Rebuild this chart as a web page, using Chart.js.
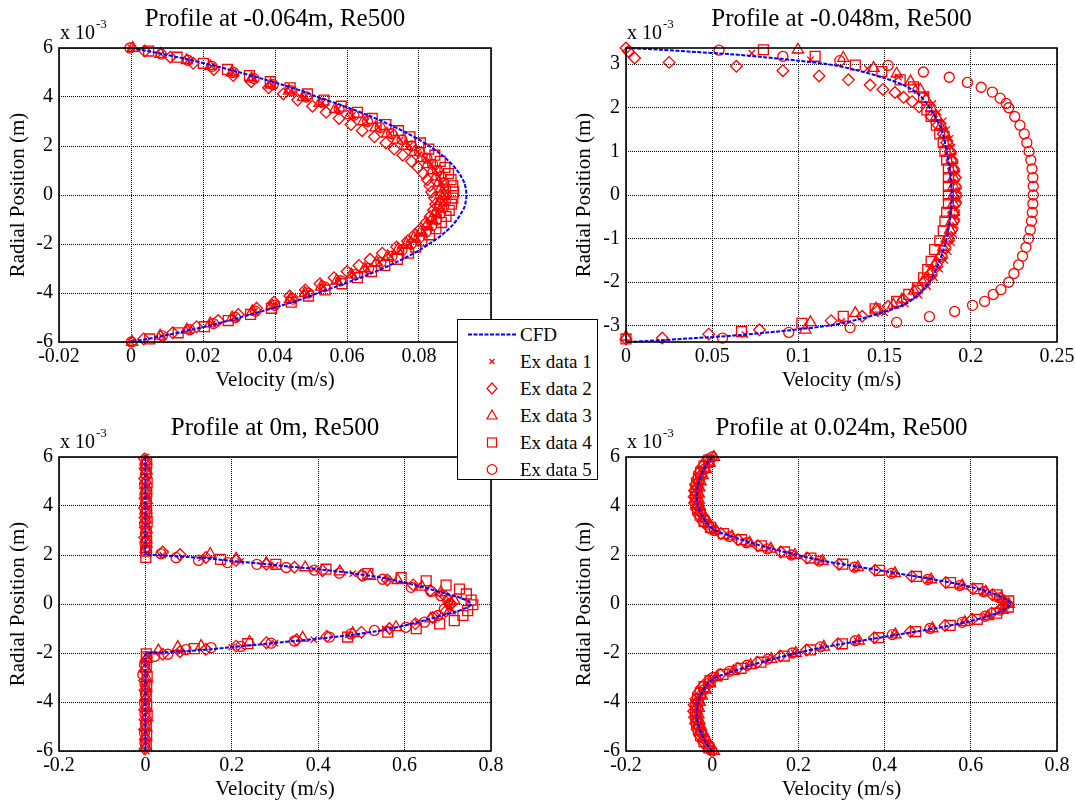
<!DOCTYPE html>
<html>
<head>
<meta charset="utf-8">
<script src="https://cdn.jsdelivr.net/npm/chart.js@4.4.1/dist/chart.umd.min.js"></script>
<style>
  html, body { margin: 0; padding: 0; background: #fff; overflow: hidden; }
  body { width: 1075px; height: 802px; position: relative; font-family: "Liberation Serif", "Times New Roman", serif; }
  .panel { position: absolute; width: 560px; height: 420px; }
  #legend { position: absolute; left: 457px; top: 319px; width: 139px; height: 159px; border: 1px solid #000; background: #fff; }
  .legend-row { position: relative; height: 27px; }
  .legend-row:first-child { margin-top: 1px; }
  .legend-row svg { position: absolute; left: 0; top: 0; }
  .legend-row span { position: absolute; left: 62px; top: 0; line-height: 27px; font-size: 19px; color: #000; white-space: nowrap; }
</style>
</head>
<body>
<div class="panel" style="left:0;top:0"><canvas id="ch-tl"></canvas></div>
<div class="panel" style="left:537px;top:0"><canvas id="ch-tr"></canvas></div>
<div class="panel" style="left:0;top:400px"><canvas id="ch-bl"></canvas></div>
<div class="panel" style="left:537px;top:400px"><canvas id="ch-br"></canvas></div>
<div id="legend"></div>

<script>
// ---- labels ----
const seriesNames = ['CFD', 'Ex data 1', 'Ex data 2', 'Ex data 3', 'Ex data 4', 'Ex data 5'];
const panelTitles = ['Profile at -0.064m, Re500', 'Profile at -0.048m, Re500', 'Profile at 0m, Re500', 'Profile at 0.024m, Re500'];
const xLabel = 'Velocity (m/s)';
const yLabel = 'Radial Position (m)';

// ---- tick values ----
const ticksRad6 = [-6, -4, -2, 0, 2, 4, 6];
const ticksRad3 = [-3, -2, -1, 0, 1, 2, 3];
const ticksVelTL = [-0.02, 0, 0.02, 0.04, 0.06, 0.08, 0.1];
const ticksVelTR = [0, 0.05, 0.1, 0.15, 0.2, 0.25];
const ticksVelLow = [-0.2, 0, 0.2, 0.4, 0.6, 0.8];

// radial stations (x 10^-3 m) for the -0.064m and 0.024m profiles
const radialGrid = [6, 5.75, 5.5, 5.25, 5, 4.75, 4.5, 4.25, 4, 3.75, 3.5, 3.25, 3, 2.75, 2.5, 2.25, 2, 1.75, 1.5, 1.25, 1, 0.75, 0.5, 0.25, 0,
  -0.25, -0.5, -0.75, -1, -1.25, -1.5, -1.75, -2, -2.25, -2.5, -2.75, -3, -3.25, -3.5, -3.75, -4, -4.25, -4.5, -4.75, -5, -5.25, -5.5, -5.75, -6];
// staggered stations used by runs 2 and 4
const radialMid = [5.875, 5.625, 5.375, 5.125, 4.875, 4.625, 4.375, 4.125, 3.875, 3.625, 3.375, 3.125, 2.875, 2.625, 2.375, 2.125, 1.875, 1.625, 1.375, 1.125, 0.875, 0.625, 0.375, 0.125,
  -0.125, -0.375, -0.625, -0.875, -1.125, -1.375, -1.625, -1.875, -2.125, -2.375, -2.625, -2.875, -3.125, -3.375, -3.625, -3.875, -4.125, -4.375, -4.625, -4.875, -5.125, -5.375, -5.625, -5.875];

// ---- profile at -0.064m ----
const tlCfdVel = [0, 0.0089, 0.0168, 0.0239, 0.0303, 0.0363, 0.042, 0.0475, 0.0518, 0.0568, 0.0615, 0.0659, 0.0699, 0.0736, 0.077, 0.0801, 0.0828, 0.0853, 0.0874, 0.0892, 0.0906, 0.0917, 0.0926, 0.093, 0.0932,
  0.093, 0.0926, 0.0917, 0.0906, 0.0892, 0.0874, 0.0853, 0.0828, 0.0801, 0.077, 0.0736, 0.0699, 0.0659, 0.0615, 0.0568, 0.0518, 0.0475, 0.042, 0.0363, 0.0303, 0.0239, 0.0168, 0.0089, 0];
const tlVel1 = [0, 0.0083, 0.0157, 0.0223, 0.0283, 0.0339, 0.0392, 0.0444, 0.0483, 0.053, 0.0574, 0.0615, 0.0653, 0.0687, 0.0719, 0.0748, 0.0773, 0.0796, 0.0816, 0.0832, 0.0846, 0.0856, 0.0864, 0.0869, 0.087,
  0.0868, 0.0863, 0.0855, 0.0844, 0.0831, 0.0815, 0.0795, 0.0774, 0.0749, 0.0721, 0.069, 0.0656, 0.0618, 0.0578, 0.0534, 0.0488, 0.0447, 0.0396, 0.0343, 0.0287, 0.0226, 0.016, 0.0085, 0];
const tlVel2 = [0.0038, 0.0109, 0.0173, 0.023, 0.0284, 0.0334, 0.0382, 0.0423, 0.0463, 0.0504, 0.0542, 0.0578, 0.0611, 0.0642, 0.0676, 0.0708, 0.0731, 0.0755, 0.0779, 0.0797, 0.0812, 0.0823, 0.083, 0.0835,
  0.0843, 0.0846, 0.084, 0.0831, 0.082, 0.0805, 0.0788, 0.0768, 0.0738, 0.0698, 0.0664, 0.0633, 0.06, 0.0564, 0.0525, 0.0484, 0.0441, 0.0397, 0.0349, 0.0298, 0.0242, 0.0182, 0.0116, 0.0035];
const tlVel3 = [0.0005, 0.0082, 0.0155, 0.022, 0.028, 0.0335, 0.0388, 0.0439, 0.0478, 0.0524, 0.0567, 0.0608, 0.0645, 0.0679, 0.0711, 0.0739, 0.0764, 0.0787, 0.0806, 0.0823, 0.0836, 0.0847, 0.0854, 0.0859, 0.086,
  0.0858, 0.0853, 0.0845, 0.0835, 0.0821, 0.0805, 0.0786, 0.0765, 0.074, 0.0713, 0.0682, 0.0649, 0.0612, 0.0571, 0.0528, 0.0483, 0.0442, 0.0391, 0.0337, 0.0281, 0.022, 0.0155, 0.0081, 0.0003];
const tlVel4 = [0.0049, 0.0128, 0.0201, 0.0268, 0.0329, 0.0387, 0.0442, 0.049, 0.0536, 0.0584, 0.0629, 0.067, 0.0708, 0.0743, 0.0775, 0.0804, 0.0827, 0.0844, 0.0859, 0.0872, 0.0882, 0.0889, 0.0894, 0.0896,
  0.0894, 0.089, 0.0884, 0.0875, 0.0862, 0.0847, 0.0829, 0.0808, 0.0791, 0.0771, 0.074, 0.0705, 0.0668, 0.0629, 0.0586, 0.0539, 0.0493, 0.0445, 0.039, 0.0332, 0.027, 0.0204, 0.0131, 0.0052];
const tlVel5 = [-0.0003, 0.0084, 0.0158, 0.0225, 0.0285, 0.0342, 0.0395, 0.0447, 0.0487, 0.0534, 0.0578, 0.0619, 0.0657, 0.0692, 0.0724, 0.0753, 0.0779, 0.0802, 0.0822, 0.0838, 0.0851, 0.0861, 0.0869, 0.0874, 0.0875,
  0.0873, 0.0868, 0.086, 0.0849, 0.0836, 0.082, 0.08, 0.0778, 0.0753, 0.0725, 0.0694, 0.066, 0.0622, 0.0582, 0.0538, 0.0492, 0.045, 0.0399, 0.0346, 0.029, 0.0229, 0.0163, 0.0087, 0.0001];

// ---- profile at -0.048m ----
const trCfdRad = [3.37, 3.33, 3.28, 3.23, 3.16, 3.08, 2.98, 2.85, 2.68, 2.5, 2.3, 2, 1.5, 1, 0.5, 0, -0.5, -1, -1.5, -2, -2.3, -2.5, -2.68, -2.85, -2.98, -3.08, -3.16, -3.23, -3.28, -3.33, -3.37];
const trCfdVel = [0, 0.02, 0.04, 0.06, 0.08, 0.1, 0.12, 0.135, 0.15, 0.162, 0.17, 0.176, 0.183, 0.186, 0.188, 0.189, 0.188, 0.186, 0.182, 0.176, 0.169, 0.162, 0.15, 0.135, 0.12, 0.1, 0.08, 0.06, 0.04, 0.02, 0];
const trRad1 = [3.25, 3.1, 2.9, 2.7, 2.5, 2.3, 2.1, 1.9, 1.7, 1.5, 1.3, 1.1, 0.9, 0.7, 0.5, 0.3, 0.1, -0.1, -0.3, -0.5, -0.7, -0.9, -1.1, -1.3, -1.5, -1.7, -1.9, -2.1, -2.3, -2.5, -2.7, -2.9, -3.2];
const trVel1 = [0.073, 0.107, 0.14, 0.158, 0.168, 0.174, 0.178, 0.181, 0.184, 0.186, 0.188, 0.189, 0.19, 0.191, 0.192, 0.192, 0.193, 0.193, 0.192, 0.192, 0.191, 0.19, 0.189, 0.187, 0.185, 0.182, 0.179, 0.175, 0.17, 0.162, 0.15, 0.125, 0.069];
const trRad2 = [3.37, 3.29, 3.14, 3.04, 2.95, 2.85, 2.73, 2.64, 2.52, 2.42, 2.35, 2.24, 2.14, 2.02, 1.8, 1.6, 1.4, 1.2, 1, 0.8, 0.6, 0.4, 0.2, 0, -0.2, -0.4, -0.6, -0.8, -1, -1.2, -1.4, -1.6, -1.8, -2, -2.2, -2.4, -2.55, -2.65, -2.78, -2.88, -3.09, -3.19, -3.28, -3.3];
const trVel2 = [0, 0.0014, 0.005, 0.025, 0.064, 0.091, 0.112, 0.129, 0.1416, 0.149, 0.156, 0.161, 0.166, 0.17, 0.177, 0.181, 0.184, 0.186, 0.188, 0.189, 0.19, 0.191, 0.191, 0.191, 0.191, 0.19, 0.19, 0.189, 0.187, 0.185, 0.183, 0.18, 0.177, 0.173, 0.168, 0.161, 0.152, 0.146, 0.137, 0.119, 0.0774, 0.048, 0.021, 0];
const trRad3 = [3.33, 3.14, 2.91, 2.78, 2.6, 2.41, 2.2, 2, 1.8, 1.6, 1.4, 1.2, 1, 0.8, 0.6, 0.4, 0.2, 0, -0.2, -0.4, -0.6, -0.8, -1, -1.2, -1.4, -1.6, -1.8, -2, -2.2, -2.4, -2.52, -2.61, -2.71, -2.92, -3.09, -3.25];
const trVel3 = [0.0997, 0.126, 0.1436, 0.157, 0.165, 0.1707, 0.174, 0.177, 0.18, 0.183, 0.185, 0.187, 0.188, 0.189, 0.19, 0.19, 0.19, 0.19, 0.19, 0.19, 0.189, 0.188, 0.186, 0.184, 0.182, 0.179, 0.176, 0.172, 0.167, 0.16, 0.155, 0.145, 0.133, 0.107, 0.104, 0];
const trRad4 = [3.33, 3.18, 2.98, 2.83, 2.64, 2.48, 2.25, 1.95, 1.8, 1.6, 1.4, 1.2, 1, 0.8, 0.6, 0.4, 0.2, 0, -0.2, -0.4, -0.6, -0.82, -1.05, -1.25, -1.52, -1.71, -1.9, -2.13, -2.28, -2.44, -2.61, -2.78, -2.94, -3.13, -3.3];
const trVel4 = [0.0797, 0.1097, 0.133, 0.1484, 0.159, 0.1668, 0.1726, 0.1745, 0.177, 0.18, 0.182, 0.184, 0.185, 0.186, 0.187, 0.187, 0.187, 0.187, 0.187, 0.186, 0.185, 0.184, 0.182, 0.179, 0.177, 0.175, 0.1726, 0.169, 0.164, 0.157, 0.1445, 0.126, 0.102, 0.067, 0];
const trRad5 = [3.32, 3.18, 3.08, 2.97, 2.82, 2.7, 2.58, 2.47, 2.36, 2.22, 2.1, 2, 1.8, 1.6, 1.4, 1.2, 1, 0.8, 0.6, 0.4, 0.2, 0, -0.2, -0.4, -0.6, -0.8, -1, -1.2, -1.4, -1.6, -1.8, -2, -2.17, -2.28, -2.44, -2.53, -2.67, -2.79, -2.92, -3.04, -3.15, -3.28];
const trVel5 = [0.054, 0.091, 0.124, 0.152, 0.1725, 0.1875, 0.198, 0.206, 0.2125, 0.217, 0.2205, 0.222, 0.2255, 0.2285, 0.231, 0.2325, 0.2338, 0.2348, 0.2355, 0.236, 0.2362, 0.2362, 0.236, 0.2357, 0.2352, 0.2345, 0.2335, 0.232, 0.23, 0.2277, 0.225, 0.222, 0.2175, 0.213, 0.208, 0.201, 0.1906, 0.176, 0.157, 0.13, 0.0944, 0.056];

// ---- profile at 0m ----
const blCfdRad = [6, 2.03, 2, 1.97, 1.92, 1.85, 1.76, 1.66, 1.55, 1.42, 1.28, 1.1, 0.88, 0.65, 0.45, 0.28, 0.12, 0, -0.12, -0.28, -0.45, -0.65, -0.88, -1.1, -1.28, -1.42, -1.55, -1.66, -1.76, -1.85, -1.92, -1.97, -2, -2.03, -6];
const blCfdVel = [0, 0, 0.01, 0.05, 0.1, 0.15, 0.2, 0.26, 0.32, 0.4, 0.47, 0.54, 0.6, 0.65, 0.69, 0.725, 0.748, 0.754, 0.748, 0.725, 0.69, 0.65, 0.6, 0.54, 0.47, 0.4, 0.32, 0.26, 0.2, 0.15, 0.1, 0.05, 0.01, 0, 0];
const blRad1 = [6, 5.6, 5.2, 4.8, 4.4, 4, 3.6, 3.2, 2.8, 2.4,
  2.1, 2, 1.88, 1.74, 1.58, 1.42, 1.24, 1.02, 0.75, 0.45, 0.15, -0.15, -0.45, -0.75, -1.02, -1.26, -1.45, -1.6, -1.76, -1.95, -2.08,
  -2.4, -2.8, -3.2, -3.6, -4, -4.4, -4.8, -5.2, -5.6, -6];
const blVel1 = [0.001, 0.002, 0.001, 0, 0.002, 0.001, 0.001, 0.002, 0, 0.003,
  0.004, 0.04, 0.13, 0.22, 0.3, 0.39, 0.48, 0.56, 0.63, 0.68, 0.705, 0.705, 0.68, 0.63, 0.555, 0.47, 0.39, 0.3, 0.2, 0.08, 0.01,
  0.002, 0.001, 0, 0.002, 0.001, 0.002, 0.001, 0, 0.001, 0.002];
const blRad2 = [5.92, 5.52, 5.12, 4.72, 4.32, 3.92, 3.52, 3.12, 2.72, 2.32,
  2.12, 2.02, 1.9, 1.78, 1.62, 1.5, 1.36, 1.18, 0.98, 0.78, 0.55, 0.3, 0, -0.3, -0.55, -0.8, -1, -1.15, -1.32, -1.46, -1.58, -1.72, -1.85, -1.95, -2.05,
  -2.32, -2.72, -3.12, -3.52, -3.92, -4.32, -4.72, -5.12, -5.52, -5.92];
const blVel2 = [-0.002, -0.001, -0.002, 0, -0.001, -0.002, -0.001, 0, -0.002, 0.002,
  0.04, 0.08, 0.14, 0.21, 0.28, 0.345, 0.41, 0.5, 0.56, 0.62, 0.66, 0.695, 0.708, 0.695, 0.665, 0.625, 0.565, 0.5, 0.42, 0.35, 0.28, 0.21, 0.14, 0.08, 0.04,
  0.001, -0.001, -0.002, -0.001, 0, -0.002, -0.001, -0.002, 0, -0.001];
const blRad3 = [5.84, 5.44, 5.04, 4.64, 4.24, 3.84, 3.44, 3.04, 2.64, 2.24,
  2.04, 1.84, 1.66, 1.49, 1.32, 1.14, 0.97, 0.7, 0.47, 0.14, -0.27, -0.6, -0.95, -1.2, -1.38, -1.55, -1.72, -1.76, -1.9,
  -2.24, -2.64, -3.04, -3.44, -3.84, -4.24, -4.64, -5.04, -5.44, -5.84];
const blVel3 = [0.002, 0.003, 0.001, 0.002, 0.003, 0.002, 0.001, 0.003, 0.002, 0.001,
  0.15, 0.21, 0.28, 0.37, 0.45, 0.52, 0.584, 0.64, 0.684, 0.715, 0.704, 0.66, 0.58, 0.48, 0.364, 0.241, 0.129, 0.075, 0.03,
  0.002, 0.001, 0.003, 0.002, 0.001, 0.002, 0.003, 0.002, 0.001, 0.002];
const blRad4 = [5.76, 5.36, 4.96, 4.56, 4.16, 3.76, 3.36, 2.96, 2.56, 2.16, 1.9,
  1.82, 1.62, 1.42, 1.24, 1.08, 0.95, 0.77, 0.61, 0.41, 0.16, -0.03, -0.27, -0.47, -0.68, -0.81, -1.01, -1.15, -1.35, -1.62, -1.82,
  -2.03, -2.16, -2.56, -2.96, -3.36, -3.76, -4.16, -4.56, -4.96, -5.36, -5.76];
const blVel4 = [0.003, 0.002, 0.004, 0.003, 0.002, 0.003, 0.004, 0.002, 0.003, 0.002, 0.001,
  0.174, 0.302, 0.418, 0.515, 0.592, 0.65, 0.696, 0.727, 0.743, 0.754, 0.758, 0.746, 0.735, 0.715, 0.681, 0.627, 0.561, 0.468, 0.237, 0.113,
  0.002, 0.003, 0.002, 0.004, 0.003, 0.002, 0.003, 0.004, 0.002, 0.003, 0.002];
const blRad5 = [5.68, 5.28, 4.88, 4.48, 4.08, 3.68, 3.28, 2.88, 2.48, 2.2,
  2.05, 1.89, 1.78, 1.69, 1.62, 1.49, 1.38, 1.26, 1.15, 1.01, 0.68, 0.51, 0.34, 0.14, 0, -0.2, -0.47, -0.74, -0.95, -1.08, -1.22, -1.35, -1.51, -1.6, -1.73, -1.78, -1.86, -2.05, -2.14,
  -2.48, -2.88, -3.28, -3.68, -4.08, -4.48, -4.88, -5.28, -5.68];
const blVel5 = [-0.001, 0, -0.002, -0.001, 0, -0.001, -0.002, 0, -0.001, 0,
  0.036, 0.071, 0.123, 0.19, 0.258, 0.326, 0.391, 0.449, 0.503, 0.549, 0.615, 0.661, 0.684, 0.7, 0.704, 0.692, 0.677, 0.646, 0.603, 0.53, 0.476, 0.426, 0.345, 0.291, 0.221, 0.152, 0.094, 0.052, 0.021,
  -0.002, -0.006, -0.001, 0, -0.002, -0.001, 0, -0.002, -0.001];

// ---- profile at 0.024m ----
const brCfdVel = [0, -0.011, -0.02, -0.026, -0.031, -0.034, -0.035, -0.035, -0.033, -0.028, -0.02, -0.01, 0.008, 0.048, 0.09, 0.14, 0.197, 0.262, 0.345, 0.43, 0.515, 0.587, 0.64, 0.675, 0.692,
  0.675, 0.64, 0.587, 0.515, 0.43, 0.345, 0.262, 0.197, 0.14, 0.09, 0.048, 0.008, -0.01, -0.02, -0.028, -0.033, -0.035, -0.035, -0.034, -0.031, -0.026, -0.02, -0.011, 0];
const brVel1 = [0.002, -0.01, -0.02, -0.027, -0.032, -0.035, -0.036, -0.036, -0.034, -0.029, -0.021, -0.011, 0.004, 0.042, 0.083, 0.132, 0.188, 0.252, 0.334, 0.42, 0.503, 0.577, 0.632, 0.668, 0.684,
  0.67, 0.636, 0.583, 0.508, 0.422, 0.336, 0.255, 0.19, 0.133, 0.085, 0.044, 0.005, -0.01, -0.02, -0.028, -0.033, -0.035, -0.036, -0.034, -0.031, -0.026, -0.019, -0.01, 0.001];
const brVel2 = [-0.012, -0.022, -0.03, -0.035, -0.039, -0.041, -0.042, -0.041, -0.037, -0.031, -0.022, -0.008, 0.02, 0.06, 0.106, 0.159, 0.22, 0.294, 0.378, 0.463, 0.542, 0.605, 0.65, 0.677,
  0.675, 0.648, 0.603, 0.54, 0.46, 0.376, 0.292, 0.219, 0.158, 0.105, 0.059, 0.019, -0.009, -0.023, -0.032, -0.038, -0.042, -0.043, -0.041, -0.039, -0.035, -0.029, -0.021, -0.01];
const brVel3 = [0.004, -0.006, -0.015, -0.022, -0.027, -0.03, -0.031, -0.031, -0.029, -0.024, -0.016, -0.006, 0.009, 0.046, 0.087, 0.136, 0.192, 0.256, 0.338, 0.424, 0.508, 0.58, 0.635, 0.671, 0.688,
  0.674, 0.64, 0.586, 0.511, 0.425, 0.34, 0.259, 0.194, 0.137, 0.089, 0.049, 0.01, -0.005, -0.015, -0.024, -0.029, -0.031, -0.032, -0.03, -0.026, -0.021, -0.014, -0.006, 0.004];
const brVel4 = [-0.008, -0.019, -0.027, -0.032, -0.036, -0.038, -0.039, -0.038, -0.034, -0.028, -0.019, -0.004, 0.026, 0.068, 0.114, 0.168, 0.229, 0.303, 0.388, 0.474, 0.553, 0.616, 0.661, 0.688,
  0.687, 0.66, 0.615, 0.552, 0.472, 0.386, 0.302, 0.228, 0.167, 0.113, 0.067, 0.025, -0.005, -0.019, -0.028, -0.034, -0.038, -0.039, -0.038, -0.036, -0.032, -0.027, -0.019, -0.008];
const brVel5 = [0, -0.008, -0.018, -0.025, -0.03, -0.033, -0.034, -0.034, -0.032, -0.027, -0.019, -0.009, 0.005, 0.04, 0.08, 0.128, 0.184, 0.248, 0.33, 0.416, 0.5, 0.574, 0.63, 0.666, 0.682,
  0.668, 0.633, 0.58, 0.505, 0.418, 0.332, 0.251, 0.186, 0.129, 0.081, 0.04, 0.002, -0.009, -0.019, -0.027, -0.032, -0.034, -0.035, -0.033, -0.03, -0.025, -0.018, -0.009, 0];

// marker look per experimental series (matlab x, d, ^, s, o)
const markerStyles = ['crossRot', 'rectRot', 'triangle', 'rect', 'circle'];
const markerRadius = [4.5, 5.8, 6.5, 7, 5];
const RED = '#ff0000';
const BLUE = '#0000ff';

Chart.defaults.font.family = '"Liberation Serif", "Times New Roman", serif';
Chart.defaults.color = '#000';

// box around plot area + panel title + exponent note
const panelDecor = {
  id: 'panelDecor',
  afterDraw(chart, args, opts) {
    const { ctx, chartArea: a } = chart;
    ctx.save();
    ctx.strokeStyle = '#000';
    ctx.lineWidth = 1.6;
    ctx.strokeRect(a.left, a.top, a.right - a.left, a.bottom - a.top);
    ctx.fillStyle = '#000';
    ctx.textAlign = 'center';
    ctx.textBaseline = 'middle';
    ctx.font = '25px "Liberation Serif"';
    ctx.fillText(opts.title, (a.left + a.right) / 2, a.top - 29);
    ctx.textAlign = 'left';
    ctx.textBaseline = 'alphabetic';
    ctx.font = '20px "Liberation Serif"';
    ctx.fillText('x 10', a.left + 1, a.top - 9);
    const w = ctx.measureText('x 10').width;
    ctx.font = '13px "Liberation Serif"';
    ctx.fillText('-3', a.left + 2 + w, a.top - 20);
    ctx.restore();
  }
};

function toPoints(vel, rad) {
  return vel.map((v, i) => ({ x: v, y: rad[i] }));
}

function buildDatasets(cfdVel, cfdRad, exVel, exRad, tension) {
  const sets = [{
    label: seriesNames[0], data: toPoints(cfdVel, cfdRad), showLine: true,
    borderColor: BLUE, borderWidth: 2, borderDash: [4, 1.5], pointRadius: 0, tension: tension, clip: false
  }];
  exVel.forEach((vel, i) => {
    sets.push({
      label: seriesNames[i + 1], data: toPoints(vel, exRad[i]), showLine: false,
      pointStyle: markerStyles[i], pointRadius: markerRadius[i], borderColor: RED, backgroundColor: 'rgba(0,0,0,0)',
      pointBorderWidth: 1.3, clip: false
    });
  });
  return sets;
}

function axis(min, max, ticks, title, isY, yWidth, titlePad) {
  return {
    type: 'linear', min: min, max: max,
    afterBuildTicks: s => { s.ticks = ticks.map(v => ({ value: v })); },
    afterFit: s => { if (isY) s.width = yWidth; else s.height = 58; },
    ticks: { font: { size: 20 }, padding: isY ? 6 : 3, callback: v => String(v), maxRotation: 0, autoSkip: false },
    grid: { color: '#000', lineWidth: 1, drawTicks: false },
    border: { display: false, dash: [1, 1] },
    title: { display: true, text: title, font: { size: 21 }, padding: isY ? { top: titlePad, bottom: 0 } : { top: 0, bottom: titlePad } }
  };
}

function makePanel(id, cfg) {
  const el = document.getElementById(id);
  return new Chart(el, {
    type: 'scatter',
    data: { datasets: cfg.datasets },
    options: {
      responsive: true, maintainAspectRatio: false, animation: false, events: [],
      layout: { padding: cfg.padding },
      plugins: { legend: { display: false }, tooltip: { enabled: false }, panelDecor: { title: cfg.title } },
      scales: {
        x: axis(cfg.xMin, cfg.xMax, cfg.xTicks, xLabel, false, 0, 7),
        y: axis(cfg.yMin, cfg.yMax, cfg.yTicks, yLabel, true, cfg.yWidth, cfg.yTitlePad)
      }
    },
    plugins: [panelDecor]
  });
}

const stationSets = [radialGrid, radialMid, radialGrid, radialMid, radialGrid];

makePanel('ch-tl', {
  title: panelTitles[0],
  datasets: buildDatasets(tlCfdVel, radialGrid, [tlVel1, tlVel2, tlVel3, tlVel4, tlVel5], stationSets, 0.3),
  padding: { left: 0, top: 48, right: 69, bottom: 20 },
  xMin: -0.02, xMax: 0.1, xTicks: ticksVelTL, yMin: -6, yMax: 6, yTicks: ticksRad6, yWidth: 59, yTitlePad: 6
});

makePanel('ch-tr', {
  title: panelTitles[1],
  datasets: buildDatasets(trCfdVel, trCfdRad, [trVel1, trVel2, trVel3, trVel4, trVel5], [trRad1, trRad2, trRad3, trRad4, trRad5], 0.3),
  padding: { left: 0, top: 48, right: 40, bottom: 20 },
  xMin: 0, xMax: 0.25, xTicks: ticksVelTR, yMin: -3.37, yMax: 3.37, yTicks: ticksRad3, yWidth: 89, yTitlePad: 35
});

makePanel('ch-bl', {
  title: panelTitles[2],
  datasets: buildDatasets(blCfdVel, blCfdRad, [blVel1, blVel2, blVel3, blVel4, blVel5], [blRad1, blRad2, blRad3, blRad4, blRad5], 0),
  padding: { left: 0, top: 57, right: 69, bottom: 11 },
  xMin: -0.2, xMax: 0.8, xTicks: ticksVelLow, yMin: -6, yMax: 6, yTicks: ticksRad6, yWidth: 59, yTitlePad: 6
});

makePanel('ch-br', {
  title: panelTitles[3],
  datasets: buildDatasets(brCfdVel, radialGrid, [brVel1, brVel2, brVel3, brVel4, brVel5], stationSets, 0.3),
  padding: { left: 0, top: 57, right: 40, bottom: 11 },
  xMin: -0.2, xMax: 0.8, xTicks: ticksVelLow, yMin: -6, yMax: 6, yTicks: ticksRad6, yWidth: 89, yTitlePad: 35
});

// shared legend box drawn over the middle of the figure
function legendIcon(i) {
  const s = '<svg width="60" height="27" viewBox="0 0 60 27">';
  const st = 'fill="none" stroke="' + RED + '" stroke-width="1.2"';
  let body = '';
  if (i === 0) body = '<line x1="10" y1="13.5" x2="58" y2="13.5" stroke="' + BLUE + '" stroke-width="2" stroke-dasharray="4 1.5"/>';
  else if (i === 1) body = '<path d="M31.5 11 L36.5 16 M31.5 16 L36.5 11" ' + st + '/>';
  else if (i === 2) body = '<polygon points="34,8 39,13.5 34,19 29,13.5" ' + st + '/>';
  else if (i === 3) body = '<polygon points="34,8 39,17 29,17" ' + st + '/>';
  else if (i === 4) body = '<rect x="29.5" y="9" width="9" height="9" ' + st + '/>';
  else body = '<circle cx="34" cy="13.5" r="4.8" ' + st + '/>';
  return s + body + '</svg>';
}

const legendBox = document.getElementById('legend');
seriesNames.forEach((name, i) => {
  const row = document.createElement('div');
  row.className = 'legend-row';
  row.innerHTML = legendIcon(i) + '<span>' + name + '</span>';
  legendBox.appendChild(row);
});
</script>
</body>
</html>
